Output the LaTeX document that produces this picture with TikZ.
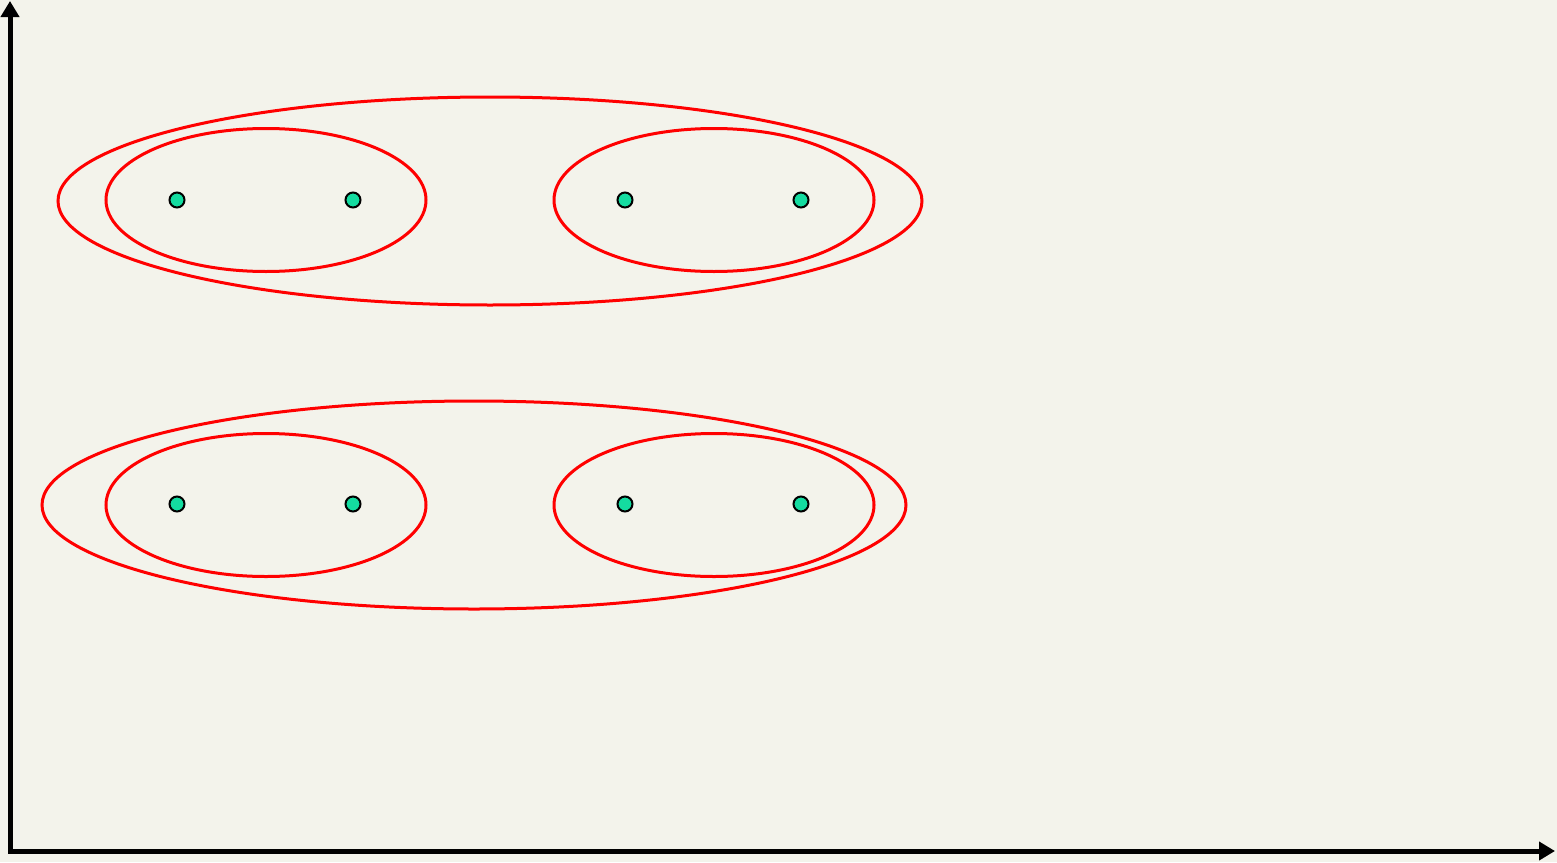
\documentclass[tikz,border=0pt]{standalone}
\usetikzlibrary{arrows.meta}
\definecolor{bg}{HTML}{F3F3EB}
\definecolor{dotc}{HTML}{14DCA0}
\definecolor{ered}{HTML}{FF0000}
\begin{document}
\begin{tikzpicture}[x=1pt,y=-1pt,
  axis/.style={line width=5pt,-{Triangle[length=16pt,width=18pt]}},
  ell/.style={draw=ered,line width=3pt},
  dot/.style={circle,draw=black,line width=2pt,fill=dotc,minimum size=15pt,inner sep=0pt}]
\fill[bg] (0,0) rectangle (1557,862);
\useasboundingbox (0,0) rectangle (1557,862);
\coordinate (ytip) at (10,1);
\coordinate (xtip) at (1555,851);
\draw[axis] (10,849) -- (ytip);
\draw[axis] (8,851) -- (xtip);
% top group
\draw[ell] (490,201) ellipse [x radius=432,y radius=104];
\draw[ell] (266,200) ellipse [x radius=160,y radius=71.5];
\draw[ell] (714,200) ellipse [x radius=160,y radius=71.5];
% bottom group
\draw[ell] (474,505) ellipse [x radius=432,y radius=104];
\draw[ell] (266,505) ellipse [x radius=160,y radius=71.5];
\draw[ell] (714,505) ellipse [x radius=160,y radius=71.5];
\node[dot] (a1) at (177,200) {};
\node[dot] (a2) at (353,200) {};
\node[dot] (a3) at (625,200) {};
\node[dot] (a4) at (801,200) {};
\node[dot] (b1) at (177,504) {};
\node[dot] (b2) at (353,504) {};
\node[dot] (b3) at (625,504) {};
\node[dot] (b4) at (801,504) {};
\end{tikzpicture}
\end{document}
